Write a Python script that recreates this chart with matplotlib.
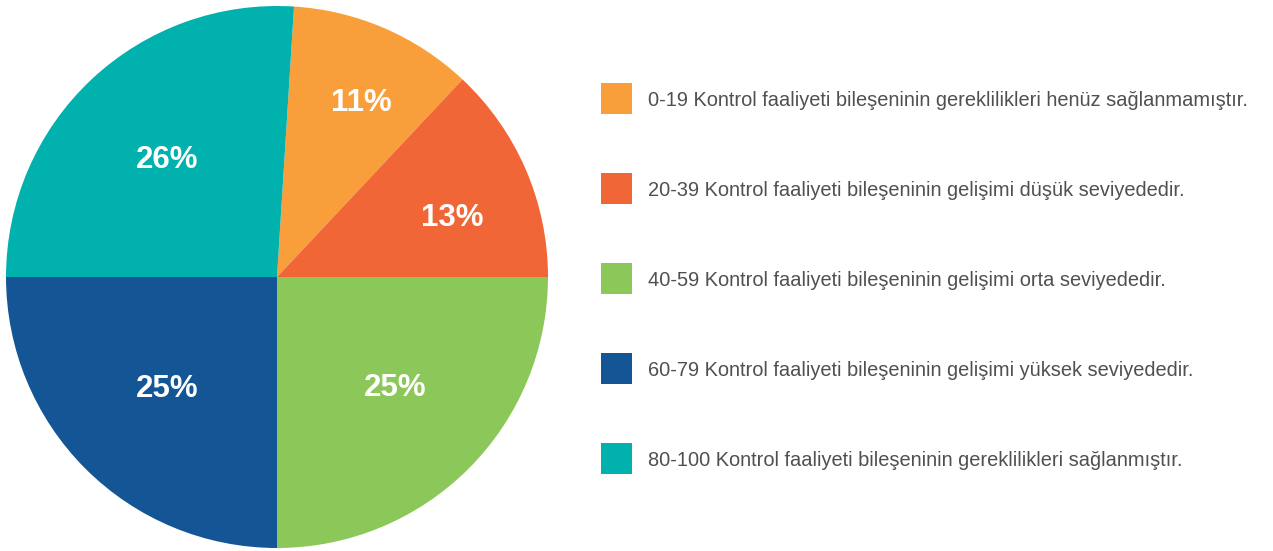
import matplotlib
matplotlib.use("Agg")
import matplotlib.pyplot as plt
from matplotlib.patches import Rectangle
import numpy as np

categories = [
    "0-19 Kontrol faaliyeti bileşeninin gereklilikleri henüz sağlanmamıştır.",
    "20-39 Kontrol faaliyeti bileşeninin gelişimi düşük seviyededir.",
    "40-59 Kontrol faaliyeti bileşeninin gelişimi orta seviyededir.",
    "60-79 Kontrol faaliyeti bileşeninin gelişimi yüksek seviyededir.",
    "80-100 Kontrol faaliyeti bileşeninin gereklilikleri sağlanmıştır.",
]
values = [11, 13, 25, 25, 26]
labels = ["11%", "13%", "25%", "25%", "26%"]
colors = ["#F89F3C", "#F16636", "#8CC75A", "#145695", "#00B1AE"]
label_dist = [0.724, 0.685, 0.59, 0.57, 0.60]
label_angle_shift = [-2.0, -3.9, 2.7, -0.3, -0.7]

plt.rcParams['font.family'] = ['Liberation Sans', 'DejaVu Sans']

fig = plt.figure(figsize=(12.73, 5.51), dpi=100)
ax = fig.add_axes([6/1273, 3/551, 542/1273, 542/551])
wedges, _ = ax.pie(values, colors=colors, startangle=90 - 3.6,
                   counterclock=False, radius=1.0,
                   wedgeprops=dict(linewidth=0))
cap_half = 11.0 / 271.0
for w, lab, d, s in zip(wedges, labels, label_dist, label_angle_shift):
    ang = np.deg2rad((w.theta1 + w.theta2) / 2 + s)
    ax.text(d*np.cos(ang), d*np.sin(ang) - cap_half, lab, color="white", fontsize=22.5,
            fontweight="bold", ha="center", va="baseline")
ax.set_xlim(-1, 1)
ax.set_ylim(-1, 1)
ax.set_aspect("equal")
ax.axis("off")

# legend
lax = fig.add_axes([0, 0, 1, 1])
lax.set_xlim(0, 1273)
lax.set_ylim(551, 0)
lax.axis("off")
for i, (cat, c) in enumerate(zip(categories, colors)):
    yc = 98.5 + i * 90
    lax.add_patch(Rectangle((601, yc - 15.5), 31, 31, facecolor=c, edgecolor="none"))
    lax.text(648, yc + 7.5, cat, fontsize=14.4, color="#505050", va="baseline", ha="left")

fig.savefig("out.png", dpi=100)
